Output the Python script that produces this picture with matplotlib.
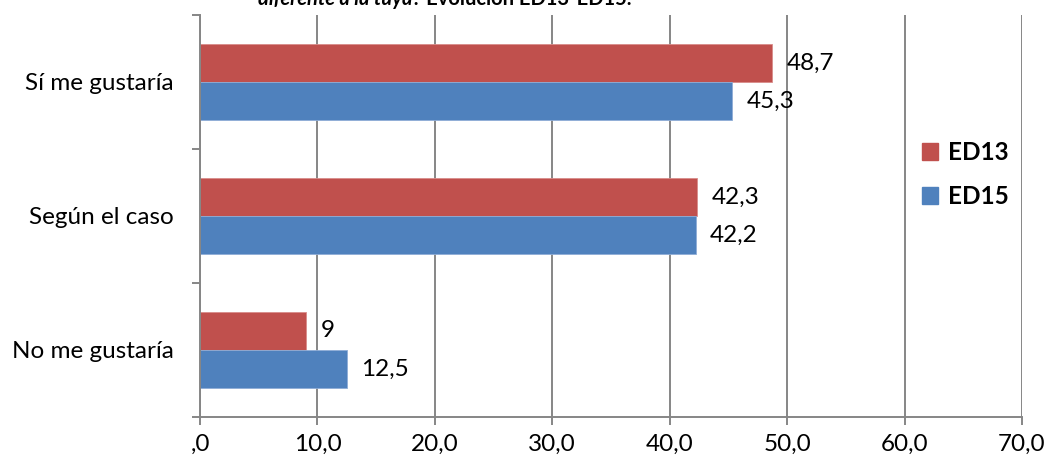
import matplotlib
matplotlib.use("Agg")
import matplotlib.pyplot as plt
from matplotlib.patches import Patch
import numpy as np

plt.rcParams['font.family'] = ['Lato', 'DejaVu Sans']

categories = ["Sí me gustaría", "Según el caso", "No me gustaría"]
series_names = ["ED13", "ED15"]
ed13 = [48.7, 42.3, 9]
ed15 = [45.3, 42.2, 12.5]
ed13_labels = ["48,7", "42,3", "9"]
ed15_labels = ["45,3", "42,2", "12,5"]
x_ticks = [0, 10, 20, 30, 40, 50, 60, 70]
x_tick_labels = [",0", "10,0", "20,0", "30,0", "40,0", "50,0", "60,0", "70,0"]

RED = "#C0504D"
BLUE = "#4F81BD"
GRID = "#868686"
FS = 17.5

W, H = 1046, 463
fig = plt.figure(figsize=(W / 100, H / 100), dpi=100)
ax = fig.add_axes([200 / W, 1 - 417 / H, (1022 - 200) / W, (417 - 15) / H])

n = len(categories)
ypos = np.arange(n)[::-1]
bh = 0.284

b1 = ax.barh(ypos + bh / 2, ed13, height=bh, color=RED, edgecolor="#D98C8A", linewidth=0.6, zorder=2)
b2 = ax.barh(ypos - bh / 2, ed15, height=bh, color=BLUE, edgecolor="#8FADD6", linewidth=0.6, zorder=2)

for bars, labels in ((b1, ed13_labels), (b2, ed15_labels)):
    for rect, lab in zip(bars, labels):
        ax.annotate(lab, xy=(rect.get_width(), rect.get_y() + rect.get_height() / 2),
                    xytext=(10.5, 0), textcoords="offset points",
                    ha="left", va="center", fontsize=FS, color="black", zorder=3)

ax.set_xlim(0, 70)
ax.set_ylim(-0.5, n - 0.5)
ax.set_xticks(x_ticks)
ax.set_xticklabels(x_tick_labels, fontsize=FS)
ax.xaxis.grid(True, color=GRID, linewidth=1.4, zorder=0)
ax.set_axisbelow(True)

# category boundaries carry the tick marks, labels sit at centres
ax.set_yticks(np.arange(-0.5, n, 1.0))
ax.set_yticklabels([])
ax.set_yticks(ypos, minor=True)
ax.set_yticklabels(categories, minor=True, fontsize=FS)
ax.tick_params(axis="y", which="major", length=6, width=1.4, color=GRID, direction="out")
ax.tick_params(axis="y", which="minor", length=0, pad=19)
ax.tick_params(axis="x", length=6, width=1.4, color=GRID, direction="out", pad=6)

for s in ("top", "right"):
    ax.spines[s].set_visible(False)
for s in ("left", "bottom"):
    ax.spines[s].set_color(GRID)
    ax.spines[s].set_linewidth(1.4)

handles = [Patch(facecolor=RED, edgecolor=RED), Patch(facecolor=BLUE, edgecolor=BLUE)]
leg = fig.legend(handles, series_names, loc="upper left",
                 bbox_to_anchor=(912 / W, 1 - 131 / H), frameon=False,
                 handlelength=0.68, handleheight=0.68, handletextpad=0.4,
                 labelspacing=0.87, borderaxespad=0,
                 prop={"weight": "bold", "size": FS})

# title line, partly cut by the top edge
TFS = 14.5
t1 = fig.text(258 / W, 1 - 5 / H, "diferente a la tuya", fontsize=TFS,
              fontweight="bold", fontstyle="italic", ha="left", va="baseline")
ax.annotate("? Evolución ED13-ED15.", xy=(1, 0), xycoords=t1, ha="left", va="bottom",
            fontsize=TFS, fontweight="bold", annotation_clip=False)

fig.savefig("out.png", dpi=100)
